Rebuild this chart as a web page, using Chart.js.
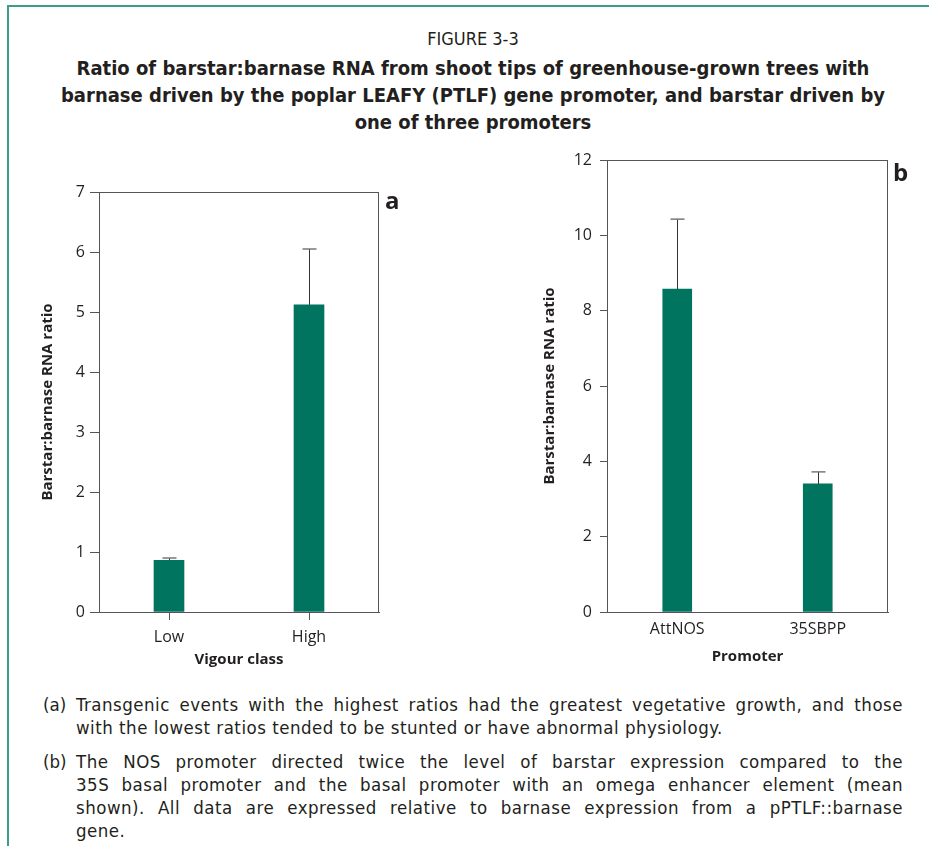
<!DOCTYPE html>
<html>
<head>
<meta charset="utf-8">
<script src="https://cdn.jsdelivr.net/npm/chart.js@4.4.1/dist/chart.umd.min.js"></script>
<style>
  html, body { margin: 0; padding: 0; background: #fff; }
  body { width: 929px; height: 846px; position: relative; overflow: hidden; }
  .frame-top { position: absolute; left: 7px; top: 5px; width: 922px; height: 2px; background: #3d9c8a; }
  .frame-left { position: absolute; left: 7px; top: 5px; width: 2px; height: 841px; background: #3d9c8a; }
  .cond { font-family: "Liberation Sans Narrow", "DejaVu Sans Condensed", "Open Sans", sans-serif; color: #231f20; }
  #fig { position: absolute; left: 16px; width: 914px; top: 28px; text-align: center; font-size: 18px; }
  #title { position: absolute; left: 16px; width: 914px; top: 55px; text-align: center; font-size: 20px; font-weight: bold; line-height: 27px; }
  .panel { position: absolute; font-family: "Open Sans", sans-serif; font-weight: bold; font-size: 24px; line-height: 24px; color: #231f20; }
  canvas { position: absolute; }
  .cap { position: absolute; left: 43px; width: 860px; font-size: 18.5px; letter-spacing: 0.5px; line-height: 23px; }
  .cap .lab { position: absolute; left: 0; top: 0; letter-spacing: 0; }
  .cap .ln { margin-left: 33px; text-align: justify; text-align-last: justify; white-space: nowrap; }
  .cap .ln.last { text-align-last: left; }
</style>
</head>
<body>
<div class="frame-top"></div>
<div class="frame-left"></div>
<div id="fig" class="cond">FIGURE 3-3</div>
<div id="title" class="cond">Ratio of barstar:barnase RNA from shoot tips of greenhouse-grown trees with<br>barnase driven by the poplar LEAFY (PTLF) gene promoter, and barstar driven by<br>one of three promoters</div>

<canvas id="chartA" width="420" height="530" style="left:0px; top:150px;"></canvas>
<canvas id="chartB" width="429" height="550" style="left:500px; top:130px;"></canvas>
<div class="panel" style="left:385px; top:188px;">a</div>
<div class="panel" style="left:893px; top:160px;">b</div>

<div class="cap cond" style="top:693px;">
  <span class="lab">(a)</span>
  <div class="ln">Transgenic events with the highest ratios had the greatest vegetative growth, and those</div>
  <div class="ln last">with the lowest ratios tended to be stunted or have abnormal physiology.</div>
</div>
<div class="cap cond" style="top:750px;">
  <span class="lab">(b)</span>
  <div class="ln">The NOS promoter directed twice the level of barstar expression compared to the</div>
  <div class="ln">35S basal promoter and the basal promoter with an omega enhancer element (mean</div>
  <div class="ln">shown). All data are expressed relative to barnase expression from a pPTLF::barnase</div>
  <div class="ln last">gene.</div>
</div>

<script>
// panel a
const vigourClasses = ['Low', 'High']
const vigourRatio = [0.86, 5.12]
const vigourErrTop = [0.90, 6.05]
const vigourTicks = [0, 1, 2, 3, 4, 5, 6, 7]

// panel b
const promoters = ['AttNOS', '35SBPP']
const promoterRatio = [8.57, 3.40]
const promoterErrTop = [10.43, 3.72]
const promoterTicks = [0, 2, 4, 6, 8, 10, 12]

const barColor = '#00745f'
const axisColor = '#555555'
const textColor = '#231f20'
const tickFont = { family: 'Open Sans', size: 16 }
const titleFont = { family: 'Open Sans', size: 15, weight: 'bold' }

// box around the plot area
const framePlugin = {
  id: 'frame',
  afterDraw(chart) {
    const a = chart.chartArea
    const ctx = chart.ctx
    ctx.save()
    ctx.strokeStyle = axisColor
    ctx.lineWidth = 1
    ctx.strokeRect(Math.round(a.left) + 0.5, Math.round(a.top) + 0.5, Math.round(a.right - a.left) - 1, Math.round(a.bottom - a.top))
    ctx.restore()
  }
}

// one-sided error bars (upper whisker only)
const errorBarPlugin = {
  id: 'errorBars',
  afterDatasetsDraw(chart, args, opts) {
    const meta = chart.getDatasetMeta(0)
    const y = chart.scales.y
    const ctx = chart.ctx
    ctx.save()
    meta.data.forEach((bar, i) => {
      const x = Math.round(bar.x) + 0.5
      const top = y.getPixelForValue(opts.tops[i])
      const base = y.getPixelForValue(chart.data.datasets[0].data[i])
      ctx.strokeStyle = '#333333'
      ctx.lineWidth = 1
      ctx.beginPath()
      ctx.moveTo(x, base)
      ctx.lineTo(x, top)
      ctx.stroke()
      ctx.strokeStyle = '#777777'
      ctx.lineWidth = 1.5
      ctx.beginPath()
      ctx.moveTo(x - opts.cap, top)
      ctx.lineTo(x + opts.cap, top)
      ctx.stroke()
    })
    ctx.restore()
  }
}

function makeChart(id, labels, values, errTops, ticks, cfg) {
  return new Chart(document.getElementById(id), {
    type: 'bar',
    data: {
      labels: labels,
      datasets: [{
        data: values,
        backgroundColor: barColor,
        borderWidth: 0,
        barThickness: cfg.barWidth
      }]
    },
    options: {
      responsive: false,
      animation: false,
      layout: { padding: cfg.padding },
      plugins: {
        legend: { display: false },
        tooltip: { enabled: false },
        errorBars: { tops: errTops, cap: 7 }
      },
      scales: {
        x: {
          afterFit: (s) => { s.height = cfg.xHeight },
          grid: { display: true, offset: false, drawOnChartArea: false, drawTicks: cfg.xTicks, tickLength: 8, color: axisColor },
          border: { display: true, color: axisColor, width: 1 },
          ticks: { color: textColor, font: tickFont, padding: cfg.xPad },
          title: { display: true, text: cfg.xTitle, color: textColor, font: titleFont, padding: { top: 0, bottom: cfg.xTitlePad } }
        },
        y: {
          min: ticks[0],
          max: ticks[ticks.length - 1],
          afterFit: (s) => { s.width = cfg.yWidth },
          afterBuildTicks: (s) => { s.ticks = ticks.map(v => ({ value: v })) },
          grid: { display: true, drawOnChartArea: false, drawTicks: true, tickLength: cfg.yTickLen, color: axisColor },
          border: { display: true, color: axisColor, width: 1 },
          ticks: { color: textColor, font: tickFont, padding: cfg.yPad },
          title: { display: true, text: 'Barstar:barnase RNA ratio', color: textColor, font: titleFont, padding: { top: cfg.yTitlePad, bottom: 0 } }
        }
      }
    },
    plugins: [framePlugin, errorBarPlugin]
  })
}

makeChart('chartA', vigourClasses, vigourRatio, vigourErrTop, vigourTicks, {
  barWidth: 30,
  padding: { left: 0, top: 42, right: 41, bottom: 0 },
  xHeight: 68, xTicks: true, xPad: 8, xTitle: 'Vigour class', xTitlePad: 11,
  yWidth: 99, yTickLen: 9, yPad: 5, yTitlePad: 39
})

makeChart('chartB', promoters, promoterRatio, promoterErrTop, promoterTicks, {
  barWidth: 29,
  padding: { left: 0, top: 30, right: 41, bottom: 0 },
  xHeight: 68, xTicks: false, xPad: 8, xTitle: 'Promoter', xTitlePad: 14,
  yWidth: 107, yTickLen: 7, yPad: 8, yTitlePad: 41
})
</script>
</body>
</html>
